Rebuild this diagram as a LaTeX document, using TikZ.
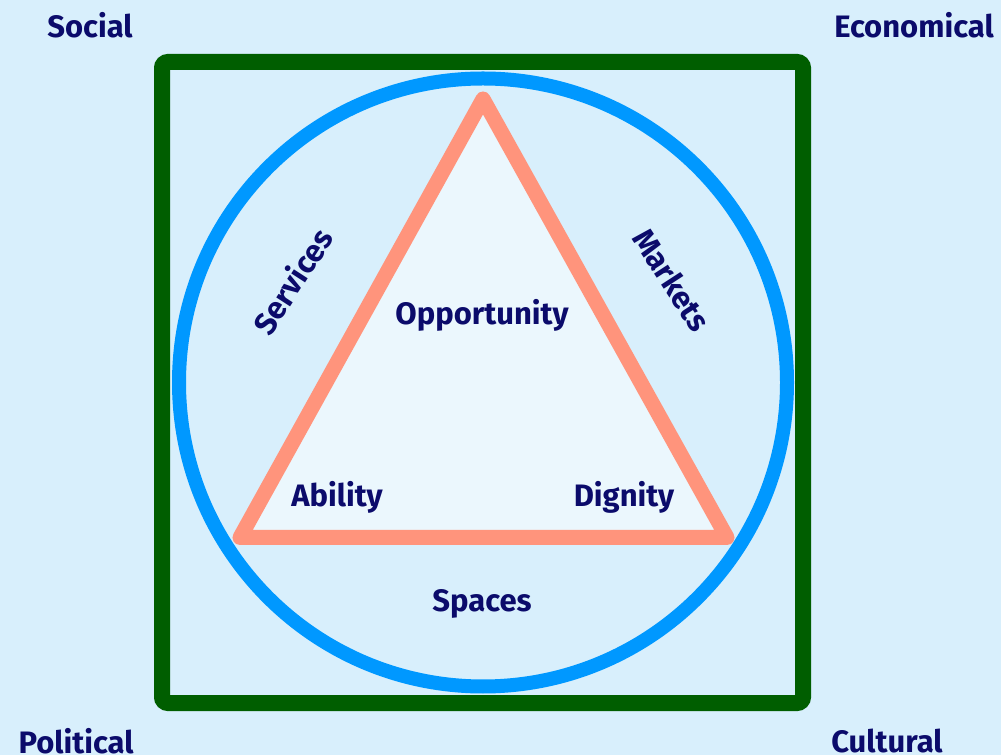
\documentclass[tikz,border=0pt]{standalone}
\usepackage{fontspec}
\setmainfont{Fira Sans}
\definecolor{bg}{HTML}{D8EFFC}
\definecolor{sqgreen}{HTML}{005E00}
\definecolor{cblue}{HTML}{0098FF}
\definecolor{tsalmon}{HTML}{FF947C}
\definecolor{tfill}{HTML}{EBF7FD}
\definecolor{navy}{HTML}{0B0B6B}
\tikzset{
  lbl/.style={text=navy, font=\fontsize{31}{36}\selectfont\bfseries, inner sep=0pt},
}
\begin{document}
\begin{tikzpicture}[x=1pt,y=1pt]
\fill[bg] (0,0) rectangle (1001,755);
\useasboundingbox (0,0) rectangle (1001,755);
\draw[sqgreen, line width=16pt, rounded corners=6pt] (162,52) rectangle (803,693);
\draw[cblue, line width=14pt] (483,372.5) circle (304);
\draw[tsalmon, fill=tfill, line width=15pt, line join=round] (483,656) -- (240,217.5) -- (727,217.5) -- cycle;
\node[lbl] (social) at (90,730) {Social};
\node[lbl] (econ) at (914,730) {Economical};
\node[lbl] (pol) at (76,14) {Political};
\node[lbl] (cult) at (887,14) {Cultural};
\node[lbl] (opp) at (482,440) {Opportunity};
\node[lbl] (abil) at (337,258) {Ability};
\node[lbl] (dig) at (624,258) {Dignity};
\node[lbl] (spaces) at (482,151) {Spaces};
\node[lbl, rotate=57] (serv) at (292,474) {Services};
\node[lbl, rotate=-57] (mark) at (672,475) {Markets};
\end{tikzpicture}
\end{document}
